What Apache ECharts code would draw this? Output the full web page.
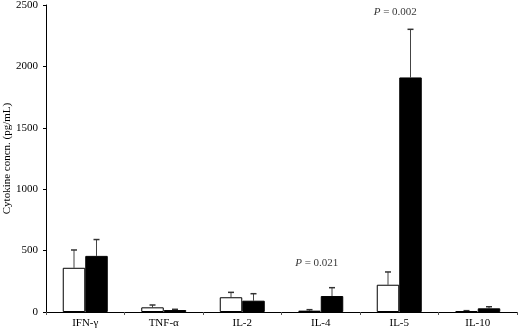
<!DOCTYPE html>
<html>
<head>
<meta charset="utf-8">
<script src="https://cdn.jsdelivr.net/npm/echarts@6/dist/echarts.min.js"></script>
<style>
html, body { margin: 0; padding: 0; background: #fff; }
#chart { width: 520px; height: 331px; }
</style>
</head>
<body>
<div id="chart"></div>
<script>
// cytokines along the x axis
var categories = ['IFN-\u03b3', 'TNF-\u03b1', 'IL-2', 'IL-4', 'IL-5', 'IL-10'];
// open bars / filled bars (pg/mL)
var openMeans = [360, 38, 120, 11, 222, 8];
var openErrs = [145, 19, 40, 8, 104, 3];
var filledMeans = [457, 16, 92, 130, 1910, 30];
var filledErrs = [133, 6, 57, 68, 392, 13];
var yTicks = [0, 500, 1000, 1500, 2000, 2500];
var pLabels = [{cat: 3, value: 400, text: '0.021'}, {cat: 4, value: 2440, text: '0.002'}];

var FONT = '"Liberation Serif", "Times New Roman", serif';
var BAR_W = 22.5;

function errData(means, errs) {
    return means.map(function (m, i) { return [i, m, errs[i]]; });
}

function errRenderer(side) {
    return function (params, api) {
        var top = api.coord([api.value(0), api.value(1) + api.value(2)]);
        var base = api.coord([api.value(0), api.value(1)]);
        var x = base[0] + side * BAR_W / 2;
        return {
            type: 'group',
            children: [
                {type: 'line', shape: {x1: x, y1: base[1], x2: x, y2: top[1]},
                    style: {stroke: '#444', lineWidth: 1}},
                {type: 'line', shape: {x1: x - 3, y1: top[1], x2: x + 3, y2: top[1]},
                    style: {stroke: '#333', lineWidth: 1.5}}
            ]
        };
    };
}

var myChart = echarts.init(document.getElementById('chart'));

var option = {
    animation: false,
    grid: {left: 46, right: 3, top: 5, bottom: 19, containLabel: false, outerBoundsMode: 'none'},
    xAxis: {
        type: 'category',
        data: categories,
        axisLine: {lineStyle: {color: '#000', width: 1}},
        axisTick: {show: true, length: 3, lineStyle: {color: '#555'}},
        axisLabel: {color: '#000', fontFamily: FONT, fontSize: 11, margin: 6}
    },
    yAxis: {
        type: 'value',
        min: 0,
        max: 2500,
        interval: 500,
        name: 'Cytokine concn. (pg/mL)',
        nameLocation: 'middle',
        nameGap: 33,
        nameMoveOverlap: false,
        nameTextStyle: {color: '#000', fontFamily: FONT, fontSize: 11},
        axisLine: {show: true, lineStyle: {color: '#000', width: 1}},
        axisTick: {show: true, length: 3, lineStyle: {color: '#000'}},
        axisLabel: {color: '#000', fontFamily: FONT, fontSize: 11, margin: 8,
            formatter: function (v) { return yTicks.indexOf(v) >= 0 ? String(v) : ''; }},
        splitLine: {show: false}
    },
    series: [
        {
            type: 'bar',
            data: openMeans,
            barWidth: BAR_W,
            barGap: '0%',
            itemStyle: {color: '#fff', borderColor: '#000', borderWidth: 1}
        },
        {
            type: 'bar',
            data: filledMeans,
            barWidth: BAR_W,
            barGap: '0%',
            itemStyle: {color: '#000', borderColor: '#000', borderWidth: 1}
        },
        {
            type: 'custom',
            data: errData(openMeans, openErrs),
            encode: {x: 0, y: 1},
            renderItem: errRenderer(-1),
            z: 1
        },
        {
            type: 'custom',
            data: errData(filledMeans, filledErrs),
            encode: {x: 0, y: 1},
            renderItem: errRenderer(1),
            z: 1
        },
        {
            type: 'scatter',
            symbolSize: 0,
            data: pLabels.map(function (p) { return {value: [p.cat, p.value], text: p.text}; }),
            label: {
                show: true,
                position: 'inside',
                offset: [-4, 0],
                formatter: function (p) { return '{i|P} = ' + p.data.text; },
                color: '#000',
                fontFamily: FONT,
                fontSize: 11,
                rich: {i: {fontStyle: 'italic', fontFamily: FONT, fontSize: 11, color: '#000'}}
            },
            silent: true
        }
    ]
};

myChart.setOption(option, true);
</script>
</body>
</html>
